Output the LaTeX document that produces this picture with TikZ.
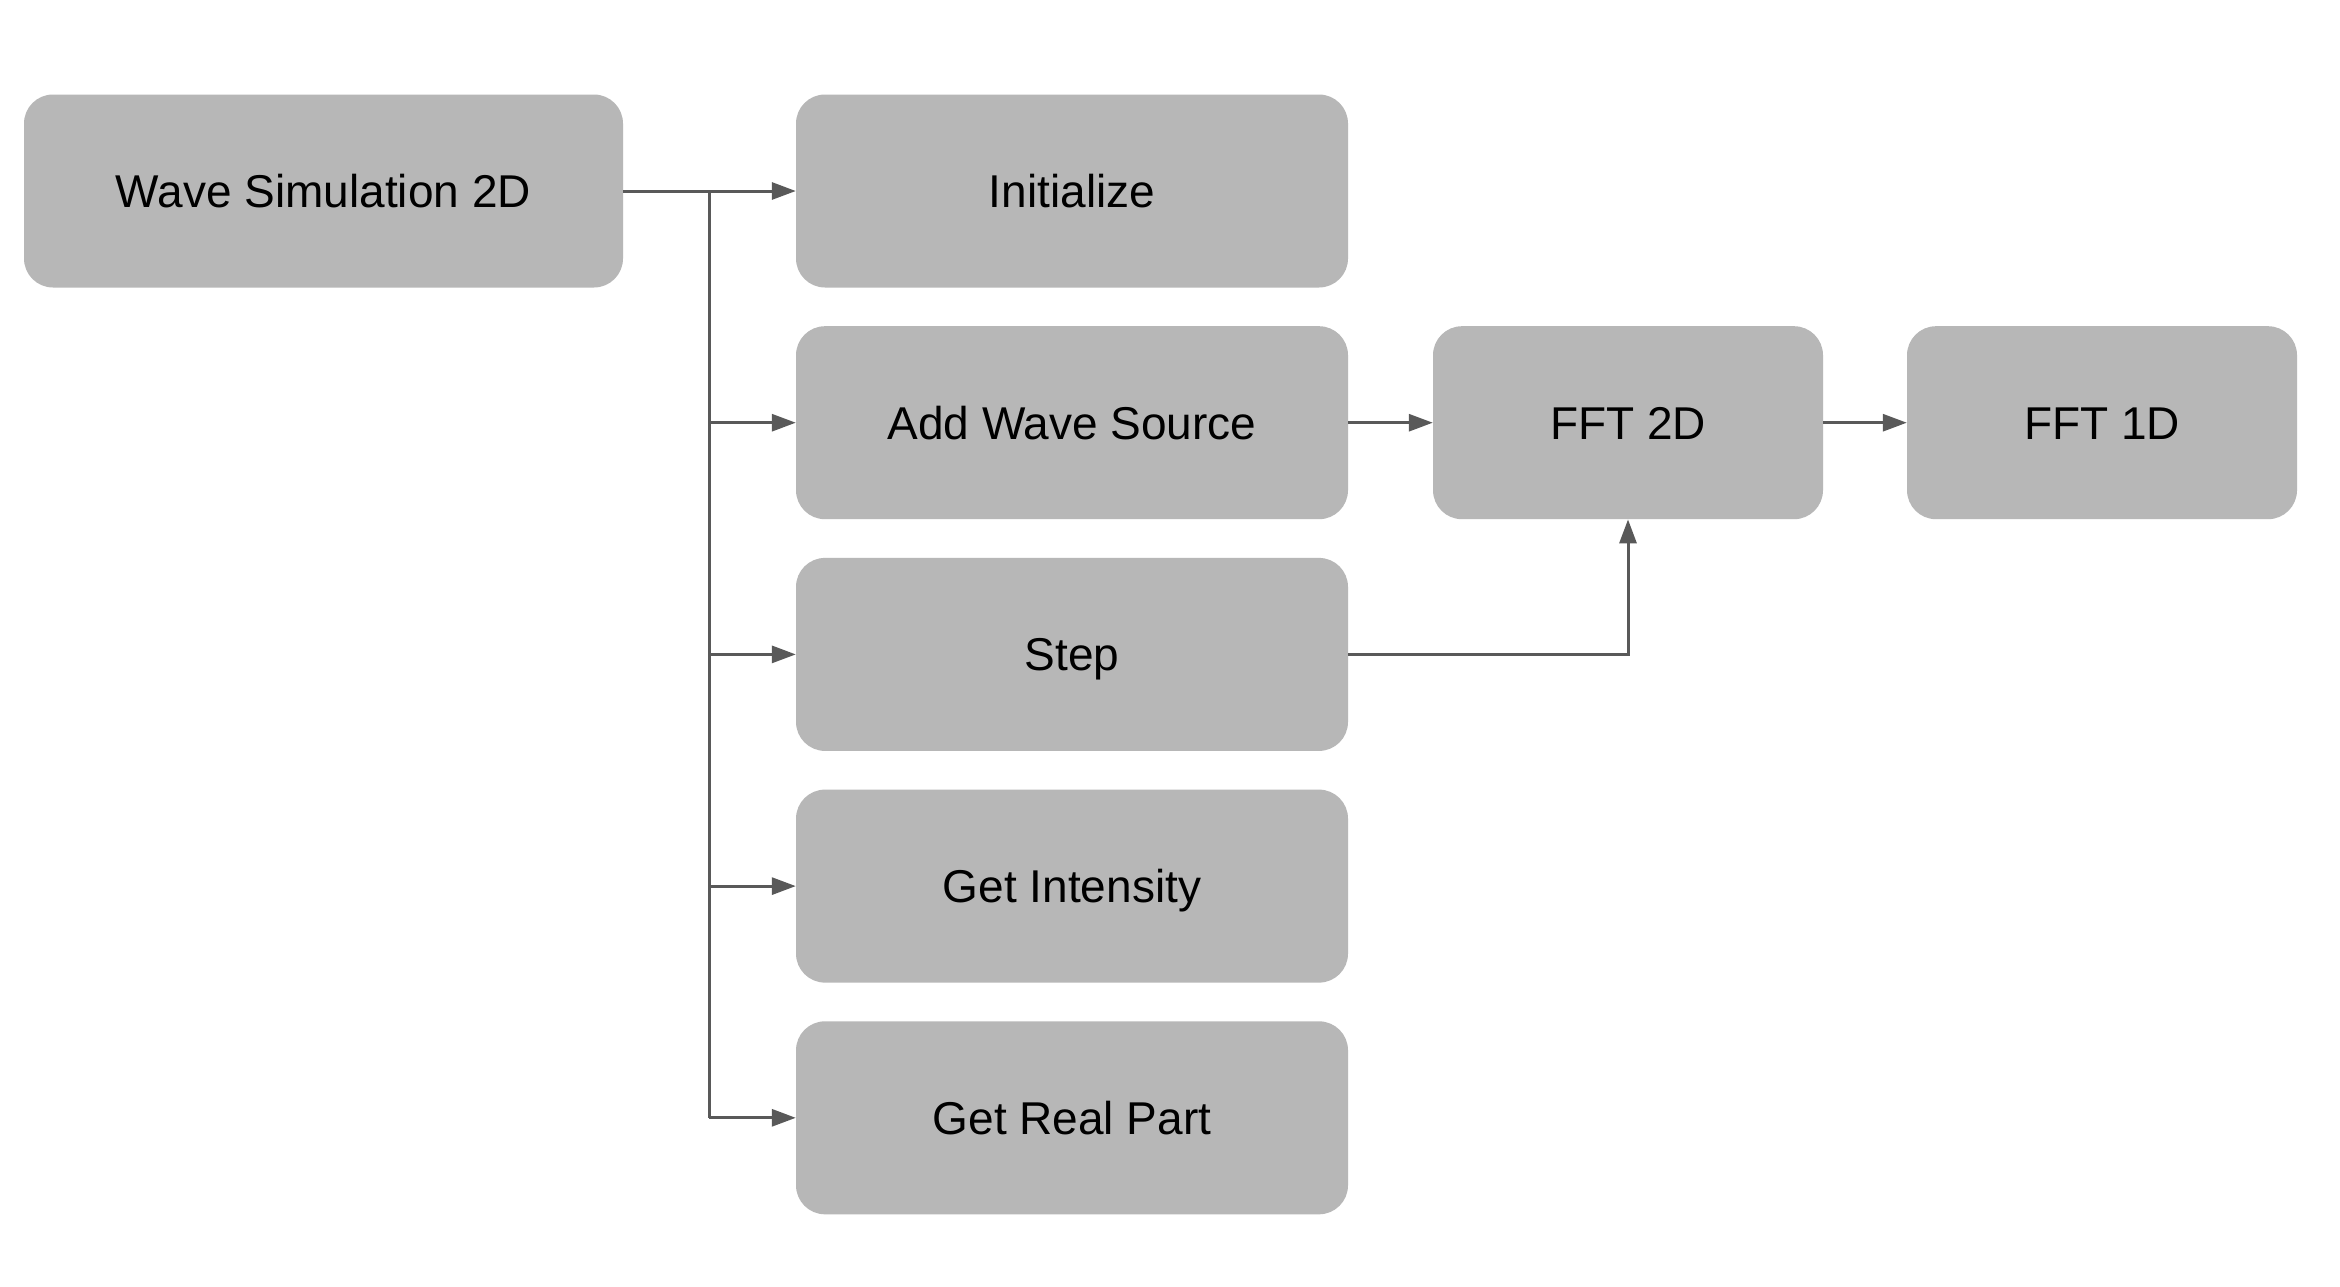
\documentclass[tikz,border=0pt]{standalone}
\usepackage{fontspec}
\setmainfont{Liberation Sans}
\usetikzlibrary{arrows.meta}
\begin{document}
\begin{tikzpicture}[x=1pt,y=-1pt,
  box/.style={fill=boxgray, draw=none, rounded corners=29pt, inner sep=0pt,
    minimum height=193pt, text height=33pt, text depth=0pt,
    font=\fontsize{46}{55}\selectfont, text=black},
  conn/.style={draw=linegray, line width=3pt, -{Triangle[length=24pt,width=17pt]}},
  trunk/.style={draw=linegray, line width=3pt}]
\definecolor{boxgray}{HTML}{B7B7B7}
\definecolor{linegray}{HTML}{595959}
\useasboundingbox (0,0) rectangle (2340,1286);
\fill[white] (0,0) rectangle (2340,1286);
\node[box, minimum width=599pt] (wave) at (323.5,191) {Wave Simulation 2D};
\node[box, minimum width=552pt] (init) at (1072,191) {Initialize};
\node[box, minimum width=552pt] (add) at (1072,422.7) {Add Wave Source};
\node[box, minimum width=552pt] (step) at (1072,654.4) {Step};
\node[box, minimum width=552pt] (inten) at (1072,886.1) {Get Intensity};
\node[box, minimum width=552pt] (real) at (1072,1117.8) {Get Real Part};
\node[box, minimum width=390pt] (fft2) at (1628,422.7) {FFT 2D};
\node[box, minimum width=390pt] (fft1) at (2102,422.7) {FFT 1D};
\coordinate (tt) at (709,191);
\coordinate (tb) at (709,1117.8);
\draw[trunk] (tt) -- (tb);
\draw[conn] (wave.east) -- (init.west);
\draw[conn] (add.west -| tt) -- (add.west);
\draw[conn] (step.west -| tt) -- (step.west);
\draw[conn] (inten.west -| tt) -- (inten.west);
\draw[conn] (tb) -- (real.west);
\draw[conn] (add.east) -- (fft2.west);
\draw[conn] (fft2.east) -- (fft1.west);
\draw[conn] (step.east) -| (fft2.south);
\end{tikzpicture}
\end{document}
